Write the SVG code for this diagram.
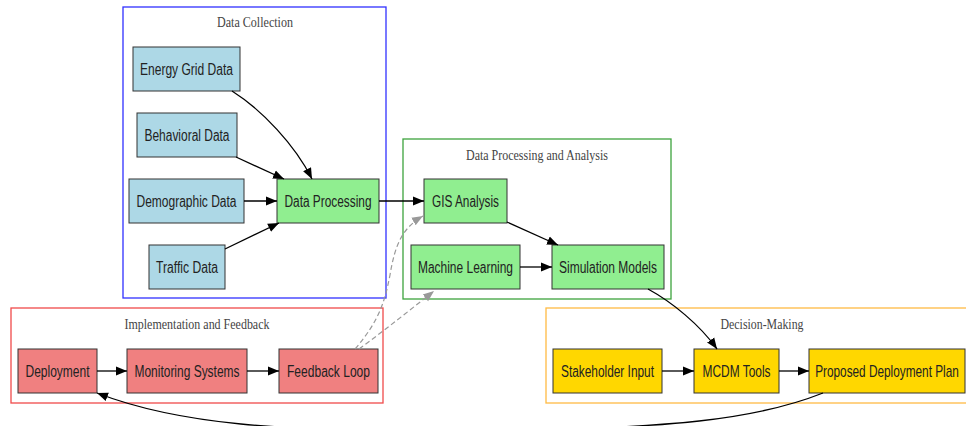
<svg xmlns="http://www.w3.org/2000/svg" width="966" height="426" viewBox="0 0 966 426">
<defs>
<marker id="ah" viewBox="0 0 10 10" refX="10" refY="5" markerWidth="11" markerHeight="11" markerUnits="userSpaceOnUse" orient="auto"><path d="M0,1 L10,5 L0,9 z" fill="#000"/></marker>
<marker id="ahg" viewBox="0 0 10 10" refX="10" refY="5" markerWidth="11" markerHeight="11" markerUnits="userSpaceOnUse" orient="auto"><path d="M0,1 L10,5 L0,9 z" fill="#999"/></marker>
<style>
.cl{fill:none;stroke-width:1.3}
.ct{font-family:"Liberation Serif","Times New Roman",serif;font-size:14.5px;fill:#444;text-anchor:middle}
.n rect{stroke:#333;stroke-width:1}
.n text{font-family:"Liberation Sans",Arial,sans-serif;font-size:16px;fill:#222;text-anchor:middle}
.b rect{fill:#ADD8E6}.g rect{fill:#90EE90}.r rect{fill:#F08080}.y rect{fill:#FFD700}
.e{fill:none;stroke:#000;stroke-width:1.3;marker-end:url(#ah)}
.d{fill:none;stroke:#999;stroke-width:1.2;stroke-dasharray:5,3;marker-end:url(#ahg)}
</style>
</defs>
<rect width="966" height="426" fill="#fff"/>
<g id="clusters">
<rect class="cl" x="123" y="7" width="263" height="291" stroke="#3030ff"/>
<text class="ct" x="255" y="27" textLength="76" lengthAdjust="spacingAndGlyphs">Data Collection</text>
<rect class="cl" x="403" y="139" width="268" height="160" stroke="#3da33d"/>
<text class="ct" x="537" y="160" textLength="142" lengthAdjust="spacingAndGlyphs">Data Processing and Analysis</text>
<rect class="cl" x="11" y="308" width="372" height="95" stroke="#f04a4a"/>
<text class="ct" x="197" y="329" textLength="145" lengthAdjust="spacingAndGlyphs">Implementation and Feedback</text>
<rect class="cl" x="546" y="308" width="430" height="95" stroke="#ffbb44"/>
<text class="ct" x="762" y="329" textLength="83" lengthAdjust="spacingAndGlyphs">Decision-Making</text>
</g>
<g id="n_energy" class="n b"><rect x="133" y="47" width="107" height="44"/><text x="186.5" y="75" textLength="93" lengthAdjust="spacingAndGlyphs">Energy Grid Data</text></g>
<g id="n_behavioral" class="n b"><rect x="137" y="113" width="100" height="44"/><text x="187" y="141" textLength="85" lengthAdjust="spacingAndGlyphs">Behavioral Data</text></g>
<g id="n_demographic" class="n b"><rect x="129" y="179" width="115" height="44"/><text x="186.5" y="207" textLength="100" lengthAdjust="spacingAndGlyphs">Demographic Data</text></g>
<g id="n_traffic" class="n b"><rect x="149" y="245" width="76" height="44"/><text x="187" y="273" textLength="62" lengthAdjust="spacingAndGlyphs">Traffic Data</text></g>
<g id="n_dataproc" class="n g"><rect x="277" y="179" width="102" height="44"/><text x="328" y="207" textLength="87" lengthAdjust="spacingAndGlyphs">Data Processing</text></g>
<g id="n_gis" class="n g"><rect x="424" y="179" width="83" height="44"/><text x="465.5" y="207" textLength="67" lengthAdjust="spacingAndGlyphs">GIS Analysis</text></g>
<g id="n_ml" class="n g"><rect x="411" y="245" width="109" height="44"/><text x="465.5" y="273" textLength="95" lengthAdjust="spacingAndGlyphs">Machine Learning</text></g>
<g id="n_sim" class="n g"><rect x="552" y="245" width="112" height="44"/><text x="608" y="273" textLength="98" lengthAdjust="spacingAndGlyphs">Simulation Models</text></g>
<g id="n_deploy" class="n r"><rect x="18" y="349" width="79" height="44"/><text x="57.5" y="377" textLength="64" lengthAdjust="spacingAndGlyphs">Deployment</text></g>
<g id="n_monitor" class="n r"><rect x="127" y="349" width="120" height="44"/><text x="187" y="377" textLength="105" lengthAdjust="spacingAndGlyphs">Monitoring Systems</text></g>
<g id="n_feedback" class="n r"><rect x="279" y="349" width="99" height="44"/><text x="328.5" y="377" textLength="83" lengthAdjust="spacingAndGlyphs">Feedback Loop</text></g>
<g id="n_stake" class="n y"><rect x="553" y="349" width="109" height="44"/><text x="607.5" y="377" textLength="93" lengthAdjust="spacingAndGlyphs">Stakeholder Input</text></g>
<g id="n_mcdm" class="n y"><rect x="694" y="349" width="85" height="44"/><text x="736.5" y="377" textLength="68" lengthAdjust="spacingAndGlyphs">MCDM Tools</text></g>
<g id="n_plan" class="n y"><rect x="809" y="349" width="156" height="44"/><text transform="translate(887,377) scale(0.739,1)" x="0" y="0">Proposed Deployment Plan</text></g>
<g id="connectors">
<path class="e" d="M232,91 C262,110 295,145 312,179"/>
<path class="e" d="M236,157 L284,179"/>
<path class="e" d="M244,201 L277,201"/>
<path class="e" d="M225,249 L279,223"/>
<path class="e" d="M379,201 L424,201"/>
<path class="e" d="M507,222 L558,245"/>
<path class="e" d="M520,267 L552,267"/>
<path class="e" d="M648,289 C672,302 700,325 717,349"/>
<path class="e" d="M662,371 L694,371"/>
<path class="e" d="M779,371 L809,371"/>
<path class="e" d="M97,371 L127,371"/>
<path class="e" d="M247,371 L279,371"/>
<path class="e" d="M823,393 C760,418 680,430 450,431 C280,431 180,425 97,393"/>
<path class="d" d="M355,349 C380,320 385,300 390,275 C395,245 402,228 423,216"/>
<path class="d" d="M359,349 C385,330 410,310 434,291"/>
</g>
</svg>
